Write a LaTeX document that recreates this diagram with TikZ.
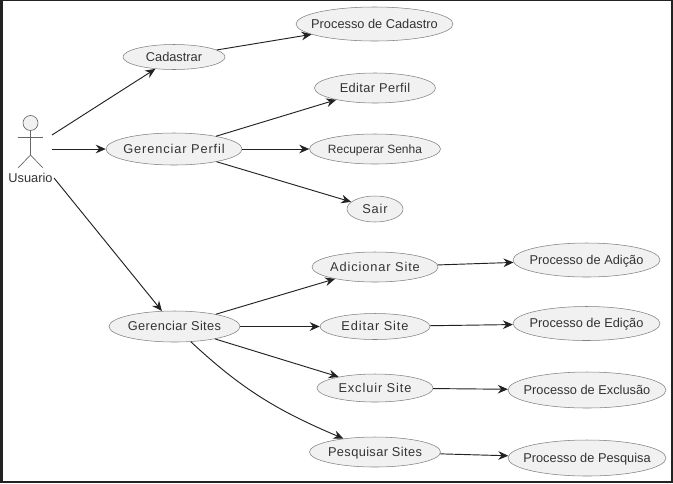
\documentclass[tikz,border=0pt]{standalone}
\usepackage{fontspec}
\setmainfont{Liberation Sans}
\newfontfamily\wideface[LetterSpace=7]{Liberation Sans}
\newfontfamily\midface[LetterSpace=3]{Liberation Sans}
\usetikzlibrary{shapes.geometric,arrows.meta}
\definecolor{usefill}{HTML}{F1F1F1}
\definecolor{usetext}{HTML}{333333}
\definecolor{usedark}{HTML}{222222}
\newcommand{\casetext}[1]{\raisebox{-3.3pt}[0pt][0pt]{\makebox[0pt]{#1}}}
\tikzset{
	usecase/.style={ellipse,draw=black!50,fill=usefill,text=usetext,inner sep=0pt,font=\fontsize{9.6}{11}\selectfont},
	widecase/.style={usecase,font=\fontsize{9.6}{11}\selectfont\wideface},
	midcase/.style={usecase,font=\fontsize{9.6}{11}\selectfont\midface},
	actorline/.style={draw=black!60,line width=0.5pt},
	flow/.style={-{Stealth[length=7.5pt,width=6.5pt,inset=2.5pt]},draw=usedark,line width=0.7pt}
}
\begin{document}
\begin{tikzpicture}[x=0.75pt,y=-0.75pt]
		\fill[usedark] (0,0) rectangle (673,483);
		\fill[white] (3,1) rectangle (671,481);
		\node [usecase,minimum width=102*0.75pt,minimum height=25*0.75pt] (cadastrar) at (174,57) {\casetext{Cadastrar}};
		\node [usecase,minimum width=157*0.75pt,minimum height=34*0.75pt] (cadastro) at (374.5,24) {\casetext{Processo de Cadastro}};
		\node [midcase,minimum width=121*0.75pt,minimum height=30*0.75pt] (editarperfil) at (375,88) {\casetext{Editar Perfil}};
		\node [widecase,minimum width=136*0.75pt,minimum height=32*0.75pt] (gerperfil) at (174,149) {\casetext{Gerenciar Perfil}};
		\node [usecase,font=\fontsize{9}{11}\selectfont,minimum width=131*0.75pt,minimum height=30*0.75pt] (recuperar) at (375,149) {\casetext{Recuperar Senha}};
		\node [widecase,minimum width=56*0.75pt,minimum height=26*0.75pt] (sair) at (375,209) {\casetext{Sair}};
		\node [midcase,minimum width=131*0.75pt,minimum height=31*0.75pt] (gersites) at (174.5,326.5) {\casetext{Gerenciar Sites}};
		\node [widecase,minimum width=126*0.75pt,minimum height=30*0.75pt] (adicionar) at (375,267) {\casetext{Adicionar Site}};
		\node [widecase,minimum width=110*0.75pt,minimum height=26*0.75pt] (editarsite) at (375,326.5) {\casetext{Editar Site}};
		\node [widecase,minimum width=116*0.75pt,minimum height=28*0.75pt] (excluir) at (375,388) {\casetext{Excluir Site}};
		\node [midcase,minimum width=131*0.75pt,minimum height=30*0.75pt] (pesquisar) at (375,452) {\casetext{Pesquisar Sites}};
		\node [usecase,minimum width=147*0.75pt,minimum height=34*0.75pt] (adicao) at (586.5,260) {\casetext{Processo de Adição}};
		\node [usecase,minimum width=147*0.75pt,minimum height=34*0.75pt] (edicao) at (586.5,323.5) {\casetext{Processo de Edição}};
		\node [usecase,minimum width=158*0.75pt,minimum height=36*0.75pt] (exclusao) at (587,390) {\casetext{Processo de Exclusão}};
		\node [usecase,minimum width=158*0.75pt,minimum height=36*0.75pt] (pesquisa) at (587,458) {\casetext{Processo de Pesquisa}};
		\draw[actorline,fill=usefill] (30.5,123) circle [radius=7.5*0.75pt];
		\draw[actorline] (30.5,130.5) -- (30.5,155);
		\draw[actorline] (18,137.5) -- (43,137.5);
		\draw[actorline] (18,168) -- (30.5,155) -- (43,168);
		\node [text=usetext,inner sep=0pt,font=\fontsize{9.6}{11}\selectfont] (usuario) at (30.5,177.5) {Usuario};
		\coordinate (startcad) at (52,135);
		\coordinate (startper) at (52,149);
		\coordinate (startsit) at (54,178);
		\draw[flow] (startcad) -- (cadastrar);
		\draw[flow] (startper) -- (gerperfil);
		\draw[flow] (startsit) -- (gersites);
		\draw[flow] (cadastrar) -- (cadastro);
		\draw[flow] (gerperfil) -- (editarperfil);
		\draw[flow] (gerperfil) -- (recuperar);
		\draw[flow] (gerperfil) -- (sair);
		\draw[flow] (gersites) -- (adicionar);
		\draw[flow] (gersites) -- (editarsite);
		\draw[flow] (gersites) -- (excluir);
		\draw[flow] (gersites) to [out=-43,in=157] (pesquisar);
		\draw[flow] (adicionar) -- (adicao);
		\draw[flow] (editarsite) -- (edicao);
		\draw[flow] (excluir) -- (exclusao);
		\draw[flow] (pesquisar) -- (pesquisa);
\end{tikzpicture}
\end{document}
